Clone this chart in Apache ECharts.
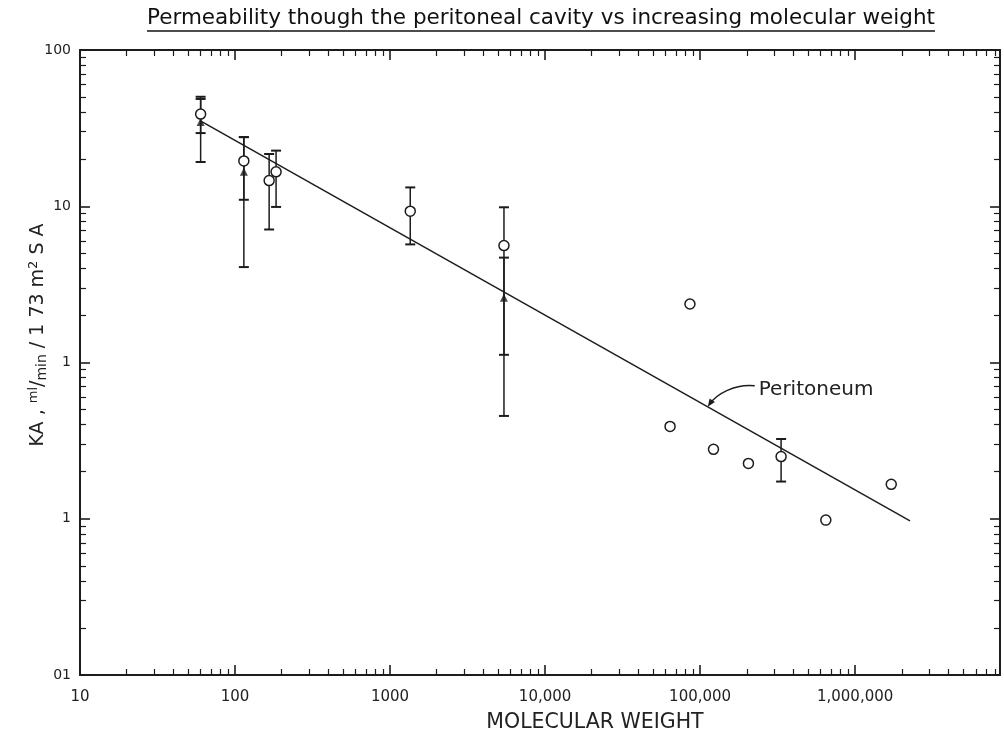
<!DOCTYPE html>
<html><head><meta charset="utf-8">
<script src="https://cdn.jsdelivr.net/npm/echarts@6/dist/echarts.min.js"></script>
<style>html,body{margin:0;padding:0;background:#fff}#c{width:1004px;height:735px}</style>
</head><body><div id="c"></div>
<script>
// ---------- data ----------
const titleText = 'Permeability though the peritoneal cavity vs increasing molecular weight';
const xAxisTitle = 'MOLECULAR WEIGHT';
const annotationText = 'Peritoneum';

const xTickValues = [10, 100, 1000, 10000, 100000, 1000000];
const xTickLabels = ['10', '100', '1000', '10,000', '100,000', '1,000,000'];
const yTickValues = [0.01, 0.1, 1, 10, 100];
const yTickLabels = ['01', '1', '1', '10', '100'];
const minorMultipliers = [2, 3, 4, 5, 6, 7, 8, 9];

// open circles (molecular weight, KA, error-bar low / high; null = no bar)
const circleMW   = [60,   114,  166,  184,  1350, 5430, 64000, 86000, 122000, 205000, 333000, 647000, 1710000];
const circleKA   = [38.9, 19.5, 14.6, 16.6, 9.3,  5.6,  0.39,  2.37,  0.278,  0.226,  0.25,   0.098,  0.166];
const circleLow  = [29.4, 11.0, 7.1,  9.9,  5.7,  1.12, null,  null,  null,   null,   0.173,  null,   null];
const circleHigh = [50.2, 27.7, 21.6, 22.7, 13.2, 9.85, null,  null,  null,   null,   0.324,  null,   null];

// filled triangles
const triMW   = [60,   114,  5430];
const triKA   = [34.6, 16.6, 2.6];
const triLow  = [19.2, 4.08, 0.455];
const triHigh = [48.6, 27.7, 4.69];

// fitted "Peritoneum" line (end points)
const lineMW = [61, 2260000];
const lineKA = [34.8, 0.097];
const annotationMW = 112000;

// ---------- chart ----------
const X_MIN = 10, X_MAX = 8.6e6, Y_MIN = 0.01, Y_MAX = 100;
const INK = '#1c1c1c';
const FONT = 'DejaVu Sans';

function lbl(vals, labs) {
  return function (v) {
    const i = vals.findIndex(t => Math.abs(Math.log10(t) - Math.log10(v)) < 1e-6);
    return i >= 0 ? labs[i] : '';
  };
}
function minorOf(majors, lo, hi) {
  const out = [];
  majors.forEach(m => minorMultipliers.forEach(k => { const v = m * k; if (v > lo && v < hi) out.push(v); }));
  return out;
}
const xMinor = minorOf([10, 100, 1000, 10000, 100000, 1000000], X_MIN, X_MAX);
const yMinor = minorOf([0.01, 0.1, 1, 10], Y_MIN, Y_MAX);

function axisBase(kind, pos, ticks, len, showLine, labels) {
  const a = {
    type: 'log', logBase: 10, position: pos,
    min: kind === 'x' ? X_MIN : Y_MIN, max: kind === 'x' ? X_MAX : Y_MAX,
    axisLine: { show: showLine, onZero: false, lineStyle: { color: INK, width: 2 } },
    axisTick: { show: true, inside: true, length: len, customValues: ticks, lineStyle: { color: INK, width: len > 7 ? 1.6 : 1.2 } },
    splitLine: { show: false },
    minorTick: { show: false },
    axisLabel: { show: false }
  };
  if (labels) {
    a.axisLabel = {
      show: true, customValues: ticks, formatter: labels,
      color: '#222', fontFamily: FONT, fontSize: kind === 'x' ? 15 : 14,
      margin: kind === 'x' ? 15 : 9
    };
  }
  return a;
}

const xAxes = [
  axisBase('x', 'bottom', xTickValues, 10, true, lbl(xTickValues, xTickLabels)),
  axisBase('x', 'top', xTickValues, 10, true, null),
  axisBase('x', 'bottom', xMinor, 6, false, null),
  axisBase('x', 'top', xMinor, 6, false, null)
];
const yAxes = [
  axisBase('y', 'left', yTickValues, 10, true, lbl(yTickValues, yTickLabels)),
  axisBase('y', 'right', yTickValues, 10, true, null),
  axisBase('y', 'left', yMinor, 6, false, null),
  axisBase('y', 'right', yMinor, 6, false, null)
];

function errRender(params, api) {
  const x = api.value(0);
  const lo = api.coord([x, api.value(1)]);
  const hi = api.coord([x, api.value(2)]);
  const cw = 5;
  const st = { stroke: INK, lineWidth: 1.5 };
  return {
    type: 'group', children: [
      { type: 'line', shape: { x1: lo[0], y1: lo[1], x2: hi[0], y2: hi[1] }, style: st },
      { type: 'line', shape: { x1: lo[0] - cw, y1: lo[1], x2: lo[0] + cw, y2: lo[1] }, style: { stroke: INK, lineWidth: 2 } },
      { type: 'line', shape: { x1: hi[0] - cw, y1: hi[1], x2: hi[0] + cw, y2: hi[1] }, style: { stroke: INK, lineWidth: 2 } }
    ]
  };
}

const circleBars = [];
circleMW.forEach((m, i) => { if (circleLow[i] != null) circleBars.push([m, circleLow[i], circleHigh[i]]); });
const triBars = triMW.map((m, i) => [m, triLow[i], triHigh[i]]);

const chart = echarts.init(document.getElementById('c'), null, { renderer: 'canvas' });
chart.setOption({
  animation: false,
  backgroundColor: '#ffffff',
  grid: { left: 80, right: 4, top: 50, bottom: 60, containLabel: false },
  xAxis: xAxes,
  yAxis: yAxes,
  series: [
    {
      type: 'line', name: annotationText, xAxisIndex: 0, yAxisIndex: 0,
      data: lineMW.map((m, i) => [m, lineKA[i]]),
      symbol: 'none', lineStyle: { color: INK, width: 1.5 }, z: 2, silent: true
    },
    { type: 'custom', xAxisIndex: 0, yAxisIndex: 0, data: circleBars, renderItem: errRender, z: 3, silent: true },
    { type: 'custom', xAxisIndex: 0, yAxisIndex: 0, data: triBars, renderItem: errRender, z: 3, silent: true },
    {
      type: 'scatter', xAxisIndex: 0, yAxisIndex: 0,
      data: triMW.map((m, i) => [m, triKA[i]]),
      symbol: 'triangle', symbolSize: 8, itemStyle: { color: INK }, z: 4
    },
    {
      type: 'scatter', xAxisIndex: 0, yAxisIndex: 0,
      data: circleMW.map((m, i) => [m, circleKA[i]]),
      symbol: 'circle', symbolSize: 10,
      itemStyle: { color: '#ffffff', borderColor: INK, borderWidth: 1.5, opacity: 1 }, z: 5
    }
  ]
});

// ---------- annotations / texts ----------
function lineKAat(m) {
  const t = (Math.log10(m) - Math.log10(lineMW[0])) / (Math.log10(lineMW[1]) - Math.log10(lineMW[0]));
  return Math.pow(10, Math.log10(lineKA[0]) + t * (Math.log10(lineKA[1]) - Math.log10(lineKA[0])));
}
const tip = chart.convertToPixel({ gridIndex: 0 }, [annotationMW, lineKAat(annotationMW)]);
const sx = tip[0] + 47, sy = tip[1] - 21;
const c2x = tip[0] + 9, c2y = tip[1] - 13;
let dx = tip[0] - c2x, dy = tip[1] - c2y; const dl = Math.hypot(dx, dy); dx /= dl; dy /= dl;
const ah = 8, aw = 3.2;

const gridCx = 541;
const TITLE_FONT = '21.5px "' + FONT + '"';
const measure = document.createElement('canvas').getContext('2d');
measure.font = TITLE_FONT;
const titleW = measure.measureText(titleText).width;

chart.setOption({
  graphic: [
    { type: 'text', x: gridCx, y: 18, style: { text: titleText, font: TITLE_FONT, fill: '#111', align: 'center', verticalAlign: 'middle' } },
    { type: 'line', shape: { x1: gridCx - titleW / 2, y1: 31, x2: gridCx + titleW / 2, y2: 31 }, style: { stroke: '#111', lineWidth: 1.3 } },
    { type: 'text', x: 595, y: 723, style: { text: xAxisTitle, font: '20.5px "' + FONT + '"', fill: '#222', align: 'center', verticalAlign: 'middle' } },
    {
      type: 'text', x: 38, y: 335, rotation: Math.PI / 2,
      style: {
        text: 'KA , {sup|ml}/{sub|min} / 1 73 m{sup|2} S A',
        font: '19px "' + FONT + '"', fill: '#222', align: 'center', verticalAlign: 'middle',
        rich: {
          sup: { fontSize: 13, fontFamily: FONT, fill: '#222', verticalAlign: 'top', padding: [0, 0, 9, 0] },
          sub: { fontSize: 14, fontFamily: FONT, fill: '#222', verticalAlign: 'bottom', padding: [4, 0, 0, 0] }
        }
      }
    },
    {
      type: 'bezierCurve',
      shape: { x1: sx, y1: sy, cpx1: tip[0] + 27, cpy1: tip[1] - 23, cpx2: c2x, cpy2: c2y, x2: tip[0] - dx * 3, y2: tip[1] - dy * 3 },
      style: { stroke: INK, lineWidth: 1.4, fill: null }
    },
    {
      type: 'polygon',
      shape: { points: [
        [tip[0], tip[1]],
        [tip[0] - dx * ah - dy * aw, tip[1] - dy * ah + dx * aw],
        [tip[0] - dx * ah + dy * aw, tip[1] - dy * ah - dx * aw]
      ] },
      style: { fill: INK }
    },
    { type: 'text', x: tip[0] + 51, y: tip[1] - 17, style: { text: annotationText, font: '20px "' + FONT + '"', fill: '#222', align: 'left', verticalAlign: 'middle' } }
  ]
});
</script>
</body></html>
